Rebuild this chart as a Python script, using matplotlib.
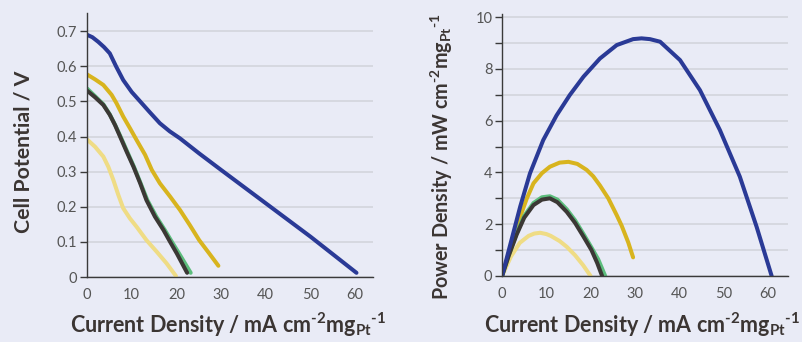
import numpy as np
import matplotlib
matplotlib.use("Agg")
import matplotlib.pyplot as plt
from matplotlib.ticker import MultipleLocator

plt.rcParams['font.family'] = ['Lato', 'DejaVu Sans']
plt.rcParams['mathtext.fontset'] = 'custom'
plt.rcParams['mathtext.rm'] = 'Lato:bold'
plt.rcParams['mathtext.default'] = 'rm'

# polarisation curves (current density, cell potential)
blue_i = [0, 1.2, 2.5, 3.8, 5.1, 6.5, 8.1, 10, 11.9, 14, 16.3, 18.5, 20.8, 25.1, 30, 40, 50, 60.3]
blue_v = [0.69, 0.683, 0.67, 0.655, 0.637, 0.60, 0.561, 0.527, 0.50, 0.47, 0.438, 0.415,
          0.395, 0.352, 0.305, 0.21, 0.115, 0.012]
gold_i = [0, 1.8, 3.65, 5.5, 6.6, 8.1, 9.6, 11.1, 13, 14.5, 16.3, 18.6, 20.8, 23, 25.1, 27.3, 29.4]
gold_v = [0.577, 0.563, 0.547, 0.519, 0.495, 0.457, 0.424, 0.39, 0.348, 0.305, 0.267, 0.229,
          0.191, 0.148, 0.105, 0.068, 0.032]
green_i = [0, 1.8, 3.65, 5.1, 6.3, 7.5, 9.0, 10.5, 12.0, 13.5, 15.5, 17.4, 19.0, 20.6, 23.2]
green_v = [0.537, 0.515, 0.492, 0.463, 0.433, 0.40, 0.357, 0.314, 0.267, 0.219, 0.172, 0.134,
           0.10, 0.067, 0.012]
dark_i = [0, 1.8, 3.65, 5.1, 6.26, 7.4, 8.87, 10.4, 11.9, 13.3, 15.2, 17.1, 18.6, 20.1, 22.4]
dark_v = [0.531, 0.512, 0.49, 0.462, 0.433, 0.40, 0.357, 0.314, 0.267, 0.219, 0.172, 0.134,
          0.10, 0.067, 0.012]
light_i = [0, 1.8, 3.65, 4.77, 5.9, 7, 8.1, 9.6, 11.1, 13.3, 15.6, 17.8, 19.9]
light_v = [0.392, 0.371, 0.343, 0.314, 0.276, 0.234, 0.196, 0.167, 0.143, 0.105, 0.072, 0.039, 0.003]

# power density curves
pblue_i = [0, 2.6, 4.1, 6.3, 9.3, 12.3, 15.3, 18.4, 22.1, 25.9, 29.6, 31.5, 33.4,
           35.7, 40.2, 44.7, 49.2, 53.7, 57.5, 60.9]
pblue_p = [0, 1.7, 2.68, 3.96, 5.25, 6.2, 6.99, 7.7, 8.4, 8.92, 9.15, 9.18, 9.15,
           9.05, 8.34, 7.18, 5.64, 3.84, 1.9, 0]
pgold_i = [0, 2, 4.1, 5.6, 7.1, 9, 10.8, 13, 15, 17, 19.1, 20.6, 22.1, 24, 25.9, 27, 28.5, 29.6]
pgold_p = [0, 1.15, 2.29, 3.0, 3.58, 3.97, 4.22, 4.38, 4.41, 4.33, 4.1, 3.85, 3.5, 3.0, 2.35,
           1.95, 1.3, 0.72]
pgreen_i = [0, 1.5, 3.3, 5, 7.1, 9, 10.8, 12.5, 14.6, 16.5, 18.4, 20.2, 21.7, 23.3]
pgreen_p = [0, 0.8, 1.65, 2.32, 2.82, 3.04, 3.08, 2.95, 2.58, 2.15, 1.62, 1.1, 0.65, 0]
pdark_i = [0, 1.5, 3.3, 5, 7.1, 9, 10.8, 12.5, 14.6, 16.5, 18.4, 20.2, 21.5, 22.6]
pdark_p = [0, 0.78, 1.6, 2.25, 2.74, 2.95, 3.0, 2.85, 2.48, 2.05, 1.52, 1.0, 0.5, 0]
plight_i = [0, 2, 4, 6, 7.3, 8.6, 10, 11, 13, 14.6, 16.5, 18.3, 20]
plight_p = [0, 0.75, 1.28, 1.55, 1.64, 1.67, 1.62, 1.55, 1.35, 1.13, 0.8, 0.42, 0]

c_blue = '#2a3a96'
c_gold = '#d8b41e'
c_green = '#5cbd7c'
c_dark = '#3b3835'
c_light = '#efdc85'
bg = '#e9ebf6'
txt = '#3b3533'

fig = plt.figure(figsize=(8.02, 3.42), dpi=100, facecolor=bg)
ax1 = fig.add_axes([0.1085, 0.190, 0.3566, 0.772])
ax2 = fig.add_axes([0.626, 0.193, 0.3566, 0.766])

lw = 2.9
kw = dict(lw=lw, solid_capstyle='round', solid_joinstyle='round')
ax1.plot(light_i, light_v, color=c_light, **kw)
ax1.plot(gold_i, gold_v, color=c_gold, **kw)
ax1.plot(green_i, green_v, color=c_green, **kw)
ax1.plot(dark_i, dark_v, color=c_dark, **kw)
ax1.plot(blue_i, blue_v, color=c_blue, **kw)

ax2.plot(plight_i, plight_p, color=c_light, **kw)
ax2.plot(pgold_i, pgold_p, color=c_gold, **kw)
ax2.plot(pgreen_i, pgreen_p, color=c_green, **kw)
ax2.plot(pdark_i, pdark_p, color=c_dark, **kw)
ax2.plot(pblue_i, pblue_p, color=c_blue, **kw)

ax1.set_xlim(0, 64)
ax1.set_ylim(0, 0.752)
ax1.set_yticks([0, 0.1, 0.2, 0.3, 0.4, 0.5, 0.6, 0.7])
ax1.set_yticklabels(['0', '0.1', '0.2', '0.3', '0.4', '0.5', '0.6', '0.7'])

ax2.set_xlim(0, 64.6)
ax2.set_ylim(0, 10.12)
ax2.set_yticks([0, 2, 4, 6, 8, 10])
ax2.yaxis.set_minor_locator(MultipleLocator(1))

for ax in (ax1, ax2):
    ax.set_facecolor(bg)
    ax.set_xticks([0, 10, 20, 30, 40, 50, 60])
    for s in ('top', 'right'):
        ax.spines[s].set_visible(False)
    for s in ('left', 'bottom'):
        ax.spines[s].set_color('#3a3a3a')
        ax.spines[s].set_linewidth(1.0)
    ax.grid(axis='y', which='both', color='#d3d5dc', lw=1.2)
    ax.set_axisbelow(True)
    ax.tick_params(axis='x', length=0, pad=8, labelsize=10.5, labelcolor='#555555')
    ax.tick_params(axis='y', which='both', length=5, width=1, color='#3a3a3a',
                   pad=2, labelsize=10.5, labelcolor='#555555')

xlab = 'Current Density / mA cm$^{\u20102}$mg$_{Pt}$$^{\u20101}$'
fig.text(0.284, 0.026, xlab, ha='center', va='baseline', fontsize=15.5,
         fontweight='bold', color=txt)
fig.text(0.8005, 0.026, xlab, ha='center', va='baseline', fontsize=15.5,
         fontweight='bold', color=txt)
fig.text(0.029, 0.557, 'Cell Potential / V', rotation=90, ha='center', va='center',
         fontsize=15.3, fontweight='bold', color=txt)
fig.text(0.551, 0.123, 'Power Density / mW cm$^{\u20102}$mg$_{Pt}$$^{\u20101}$', rotation=90,
         ha='center', va='bottom', fontsize=14.2, fontweight='bold', color=txt)

fig.savefig('out.png', dpi=100, facecolor=bg)
